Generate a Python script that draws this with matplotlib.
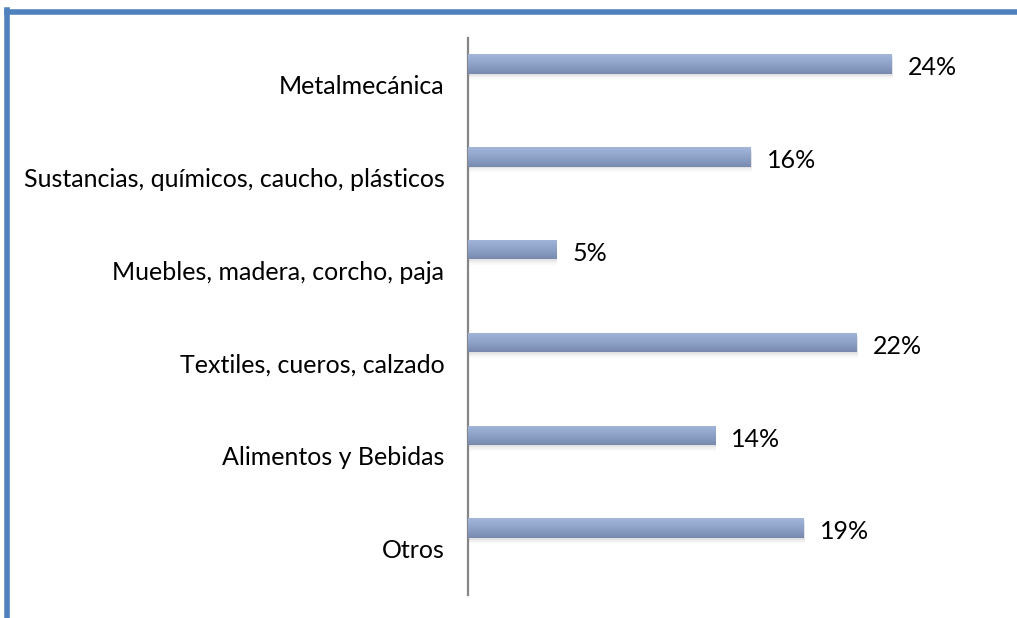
import numpy as np
import matplotlib
matplotlib.use("Agg")
import matplotlib.pyplot as plt
import matplotlib.transforms as mtransforms
from matplotlib.patches import Rectangle
from matplotlib.colors import LinearSegmentedColormap

categories = ["Metalmecánica",
              "Sustancias, químicos, caucho, plásticos",
              "Muebles, madera, corcho, paja",
              "Textiles, cueros, calzado",
              "Alimentos y Bebidas",
              "Otros"]
values = [24, 16, 5, 22, 14, 19]
value_labels = ["24%", "16%", "5%", "22%", "14%", "19%"]

plt.rcParams['font.family'] = ['Lato', 'DejaVu Sans']

fig = plt.figure(figsize=(10.17, 6.18), dpi=100)
ax = fig.add_axes([468 / 1017, 1 - 595 / 618, 530 / 1017, 557 / 618])

pos = np.arange(len(categories))
bar_off = -0.22   # bars sit above the category centre
bar_h = 0.21

grad = LinearSegmentedColormap.from_list("bar", ["#a3b6da", "#8ea3c9", "#7889ad"])

for p, v in zip(pos, values):
    y = p + bar_off
    # soft shadow under the bar
    for k, a in enumerate([0.10, 0.07, 0.04]):
        ax.add_patch(Rectangle((0, y - bar_h / 2 + 0.02 + k * 0.02), v + 0.05, bar_h,
                               color="#7f7f7f", alpha=a, lw=0, zorder=1))
    bars = ax.barh(y, v, height=bar_h, color="#8ea3c9", lw=0, zorder=2)
    b = bars[0]
    img = ax.imshow(np.linspace(0, 1, 50).reshape(-1, 1), cmap=grad, aspect="auto",
                    extent=[0, v, y + bar_h / 2, y - bar_h / 2], zorder=3,
                    interpolation="bilinear")
    img.set_clip_path(b)

for p, v, lab in zip(pos, values, value_labels):
    ax.text(v + 0.9, p + bar_off + 0.04, lab, va="center", ha="left",
            fontsize=18, color="#000000")

ax.set_xlim(0, 30)
ax.set_ylim(len(categories) - 0.5, -0.5)
ax.set_yticks(pos)
ax.set_yticklabels(categories, fontsize=18)
shift = mtransforms.ScaledTranslation(0, -3.5 / 100, fig.dpi_scale_trans)
for t in ax.get_yticklabels():
    t.set_transform(t.get_transform() + shift)
ax.tick_params(axis="y", length=0, pad=17)
ax.set_xticks([])
for s in ["top", "right", "bottom"]:
    ax.spines[s].set_visible(False)
ax.spines["left"].set_color("#868686")
ax.spines["left"].set_linewidth(1.6)

# blue frame on top and left edges
fig.add_artist(plt.Line2D([6.5 / 1017, 1.01], [1 - 11.5 / 618, 1 - 11.5 / 618],
                          color="#4f81bd", lw=4, transform=fig.transFigure))
fig.add_artist(plt.Line2D([6.5 / 1017, 6.5 / 1017], [1 - 9.5 / 618, -0.01],
                          color="#4f81bd", lw=4, transform=fig.transFigure))

fig.savefig("out.png", dpi=100)
